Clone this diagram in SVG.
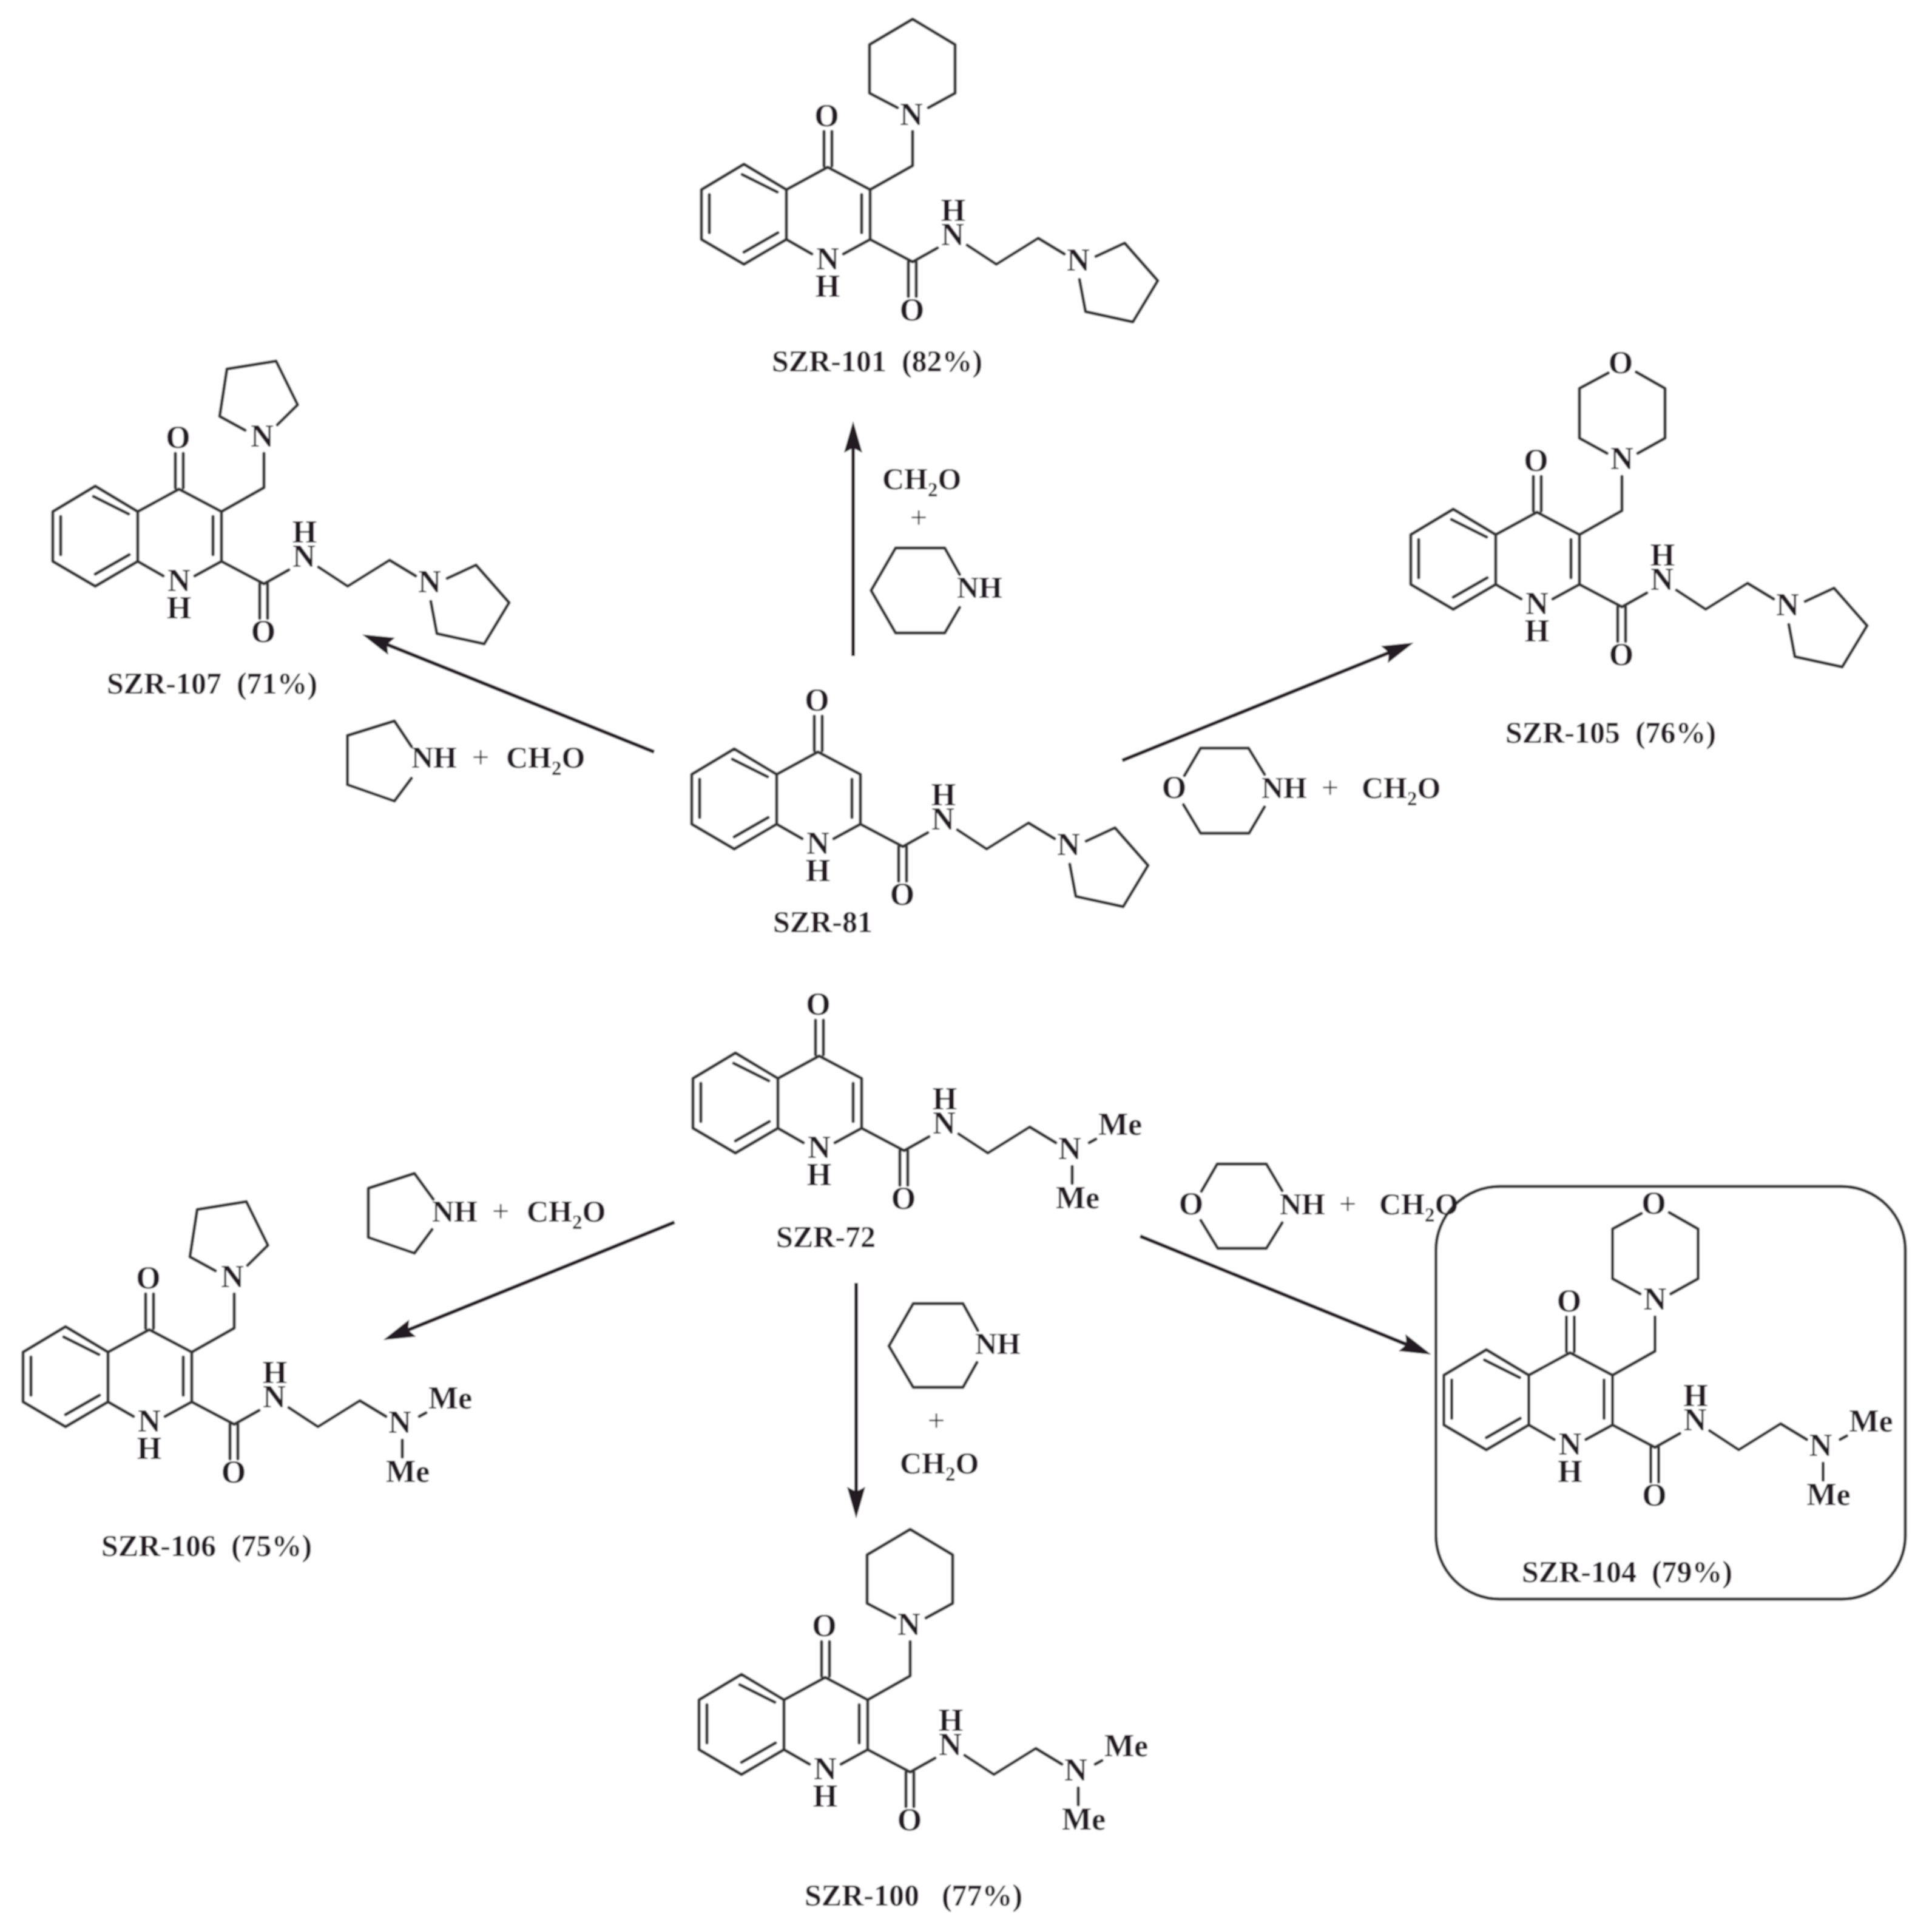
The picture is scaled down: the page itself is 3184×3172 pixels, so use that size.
<svg xmlns="http://www.w3.org/2000/svg" xmlns:xlink="http://www.w3.org/1999/xlink" width="3184" height="3172" viewBox="0 0 3184 3172">
<style>
text{font-family:"Liberation Serif","Times New Roman",serif;font-weight:bold;fill:#231f20;white-space:pre}
.a{font-size:52px;text-anchor:middle}
.r{font-size:50px}
.p{font-size:50px;font-weight:normal;text-anchor:middle}
.l{font-size:50px}
.s{font-size:33px}
.b{fill:none;stroke:#333;stroke-width:5;stroke-linejoin:round;stroke-linecap:round}
.w{fill:none;stroke:#231f20;stroke-width:6}
</style>
<defs>
<filter id="soft" filterUnits="userSpaceOnUse" x="0" y="0" width="3184" height="3172"><feGaussianBlur stdDeviation="1.1"/></filter>
<marker id="head" markerUnits="userSpaceOnUse" markerWidth="56" markerHeight="34" refX="8" refY="17" orient="auto"><path d="M0,2 L52,17 L0,32 L8,17 Z" fill="#231f20"/></marker>
<path id="core" class="b" d="M-138,-5 L-208,37 V119 L-138,160 L-68,119 V37 Z M-68,37 L0,0 L70,37 V119 L140,156 M-68,119 L-26,143 M70,119 L26,143 M-141,12 L-83,41 M-195,45 V108 M-138,140 L-82,108 M56,45 V108 M-6,-2 V-59 M7,-2 V-59 M140,156 L181,133 M230,128.5 L278,160 L347,117 L390,143 M133,156 V213 M146,156 V213"/>
<path id="ch2" class="b" d="M70,37 L140,-2.5 V-59"/>
<path id="pip" class="b" d="M115,-98 L69,-122 V-202 L140,-244 L210,-202 V-122 L166,-98"/>
<path id="pyrtop" class="b" d="M109,-97 L67,-120 L79,-198 L160,-211 L195.5,-139 L162,-106"/>
<path id="morph" class="b" d="M117.5,-229.5 L70,-204 V-122 L115.5,-97 M166,-97 L211,-122 V-204 L163.5,-231"/>
<path id="pyramine" class="b" d="M442,147 L489.5,125 L544,187 L503,255 L425,238 L415,185"/>
<path id="dime" class="b" d="M445,143 L456,137 M417,182 V210"/>
</defs>
<g filter="url(#soft)">
<rect width="3184" height="3172" fill="#fff"/>
<g id="connectors">
<line id="arrow-107" class="w" x1="1078" y1="1239" x2="637.8" y2="1062" marker-end="url(#head)"/>
<line id="arrow-101" class="w" x1="1406" y1="1081" x2="1406" y2="738" marker-end="url(#head)"/>
<line id="arrow-105" class="w" x1="1849.5" y1="1253" x2="2289" y2="1075.5" marker-end="url(#head)"/>
<line id="arrow-106" class="w" x1="1111.6" y1="2014" x2="672.5" y2="2191.5" marker-end="url(#head)"/>
<line id="arrow-100" class="w" x1="1411" y1="2114" x2="1411" y2="2458" marker-end="url(#head)"/>
<line id="arrow-104" class="w" x1="1879" y1="2037" x2="2318" y2="2215.4" marker-end="url(#head)"/>
</g>
<g id="szr-101">
<g transform="translate(1364,275.5)"><use href="#core"/><use href="#ch2"/><use href="#pip"/><use href="#pyramine"/>
<text class="a" x="-1.5" y="-68">O</text><text class="a" x="0" y="168">N</text><text class="a" x="0" y="213">H</text><text class="a" x="139" y="252">O</text><text class="a" x="206" y="128">N</text><text class="a" x="207" y="88">H</text><text class="a" x="138" y="-70">N</text><text class="a" x="413" y="170">N</text></g>
<text class="l" x="1272" y="612">SZR-101  (82%)</text>
</g>
<g id="szr-107">
<g transform="translate(295,806)"><use href="#core"/><use href="#ch2"/><use href="#pyrtop"/><use href="#pyramine"/>
<text class="a" x="-1.5" y="-68">O</text><text class="a" x="0" y="168">N</text><text class="a" x="0" y="213">H</text><text class="a" x="139" y="252">O</text><text class="a" x="206" y="128">N</text><text class="a" x="207" y="88">H</text><text class="a" x="137" y="-70">N</text><text class="a" x="413" y="170">N</text></g>
<text class="l" x="176" y="1143">SZR-107  (71%)</text>
</g>
<g id="szr-105">
<g transform="translate(2533,844)"><use href="#core"/><use href="#ch2"/><use href="#morph"/><use href="#pyramine"/>
<text class="a" x="-1.5" y="-68">O</text><text class="a" x="0" y="168">N</text><text class="a" x="0" y="213">H</text><text class="a" x="139" y="252">O</text><text class="a" x="206" y="128">N</text><text class="a" x="207" y="88">H</text><text class="a" x="140" y="-71">N</text><text class="a" x="138" y="-229">O</text><text class="a" x="413" y="170">N</text></g>
<text class="l" x="2481" y="1224">SZR-105  (76%)</text>
</g>
<g id="szr-81">
<g transform="translate(1348,1239)"><use href="#core"/><use href="#pyramine"/>
<text class="a" x="-1.5" y="-68">O</text><text class="a" x="0" y="168">N</text><text class="a" x="0" y="213">H</text><text class="a" x="139" y="252">O</text><text class="a" x="206" y="128">N</text><text class="a" x="207" y="88">H</text><text class="a" x="413" y="170">N</text></g>
<text class="l" x="1274" y="1536">SZR-81</text>
</g>
<g id="szr-72">
<g transform="translate(1350,1740)"><use href="#core"/><use href="#dime"/>
<text class="a" x="-1.5" y="-68">O</text><text class="a" x="0" y="168">N</text><text class="a" x="0" y="213">H</text><text class="a" x="139" y="252">O</text><text class="a" x="206" y="128">N</text><text class="a" x="207" y="88">H</text><text class="a" x="413" y="170">N</text><text class="a" x="496" y="130">Me</text><text class="a" x="426" y="251">Me</text></g>
<text class="l" x="1279" y="2055">SZR-72</text>
</g>
<g id="szr-106">
<g transform="translate(246,2191)"><use href="#core"/><use href="#ch2"/><use href="#pyrtop"/><use href="#dime"/>
<text class="a" x="-1.5" y="-68">O</text><text class="a" x="0" y="168">N</text><text class="a" x="0" y="213">H</text><text class="a" x="139" y="252">O</text><text class="a" x="206" y="128">N</text><text class="a" x="207" y="88">H</text><text class="a" x="137" y="-70">N</text><text class="a" x="413" y="170">N</text><text class="a" x="496" y="130">Me</text><text class="a" x="426" y="251">Me</text></g>
<text class="l" x="167" y="2564">SZR-106  (75%)</text>
</g>
<g id="szr-100">
<g transform="translate(1360,2764)"><use href="#core"/><use href="#ch2"/><use href="#pip"/><use href="#dime"/>
<text class="a" x="-1.5" y="-68">O</text><text class="a" x="0" y="168">N</text><text class="a" x="0" y="213">H</text><text class="a" x="139" y="252">O</text><text class="a" x="206" y="128">N</text><text class="a" x="207" y="88">H</text><text class="a" x="138" y="-70">N</text><text class="a" x="413" y="170">N</text><text class="a" x="496" y="130">Me</text><text class="a" x="426" y="251">Me</text></g>
<text class="l" x="1326" y="3140">SZR-100  <tspan dx="12">(77%)</tspan></text>
</g>
<g id="szr-104">
<rect class="b" x="2366.5" y="1955" width="773.5" height="680" rx="105" ry="105"/>
<g transform="translate(2587.5,2229)"><use href="#core"/><use href="#ch2"/><use href="#morph"/><use href="#dime"/>
<text class="a" x="-1.5" y="-68">O</text><text class="a" x="0" y="168">N</text><text class="a" x="0" y="213">H</text><text class="a" x="139" y="252">O</text><text class="a" x="206" y="128">N</text><text class="a" x="207" y="88">H</text><text class="a" x="140" y="-71">N</text><text class="a" x="138" y="-229">O</text><text class="a" x="413" y="170">N</text><text class="a" x="496" y="130">Me</text><text class="a" x="426" y="251">Me</text></g>
<text class="l" x="2508" y="2607">SZR-104  (79%)</text>
</g>
<g id="reagent-107">
<path class="b" d="M678,1230 L650,1188 L572.6,1212 V1293 L650,1320 L678,1282.5"/>
<text class="r" x="678" y="1265">NH</text><text class="p" x="792" y="1265">+</text><text class="r" x="834" y="1265">CH<tspan class="s" dy="12">2</tspan><tspan dy="-12">O</tspan></text>
</g>
<g id="reagent-101">
<text class="r" x="1454" y="806">CH<tspan class="s" dy="12">2</tspan><tspan dy="-12">O</tspan></text><text class="p" x="1514" y="870">+</text>
<path class="b" d="M1581.5,946.6 L1557,903 H1476 L1435.6,973 L1476,1043 H1557 L1581.5,1001"/>
<text class="r" x="1577" y="985">NH</text>
</g>
<g id="reagent-105">
<path class="b" d="M1952,1278 L1978.6,1232.7 H2057.6 L2084,1276 M2084,1329.6 L2058.5,1373 H1978.6 L1950.4,1326"/>
<text class="a" x="1935" y="1315">O</text><text class="r" x="2079" y="1315">NH</text><text class="p" x="2192" y="1315">+</text><text class="r" x="2244" y="1315">CH<tspan class="s" dy="12">2</tspan><tspan dy="-12">O</tspan></text>
</g>
<g id="reagent-106">
<path class="b" d="M714,1976 L683,1933.5 L607,1958 V2039 L683,2065 L712,2026"/>
<text class="r" x="712" y="2012.5">NH</text><text class="p" x="825" y="2012.5">+</text><text class="r" x="868" y="2012.5">CH<tspan class="s" dy="12">2</tspan><tspan dy="-12">O</tspan></text>
</g>
<g id="reagent-100">
<path class="b" d="M1611.5,2192.5 L1587,2148 H1505 L1465,2218 L1505,2286 H1587 L1610,2245"/>
<text class="r" x="1607" y="2231">NH</text><text class="p" x="1543" y="2358">+</text><text class="r" x="1483" y="2428">CH<tspan class="s" dy="12">2</tspan><tspan dy="-12">O</tspan></text>
</g>
<g id="reagent-104">
<path class="b" d="M1980,1963 L2006,1918 H2087 L2113,1962 M2113,2015 L2087,2057 H2007 L1979,2011"/>
<text class="a" x="1963" y="2001">O</text><text class="r" x="2109" y="2001">NH</text><text class="p" x="2221" y="2001">+</text><text class="r" x="2273" y="2001">CH<tspan class="s" dy="12">2</tspan><tspan dy="-12">O</tspan></text>
</g>
</g>
</svg>
